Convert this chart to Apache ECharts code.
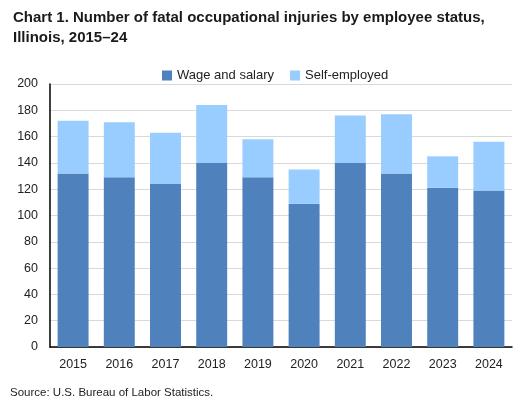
<!DOCTYPE html>
<html><head><meta charset="utf-8">
<script src="https://cdn.jsdelivr.net/npm/echarts@6/dist/echarts.min.js"></script>
<style>html,body{margin:0;padding:0;background:#fff}#c{width:528px;height:407px}</style>
</head><body><div id="c"></div>
<script>
const years = ['2015','2016','2017','2018','2019','2020','2021','2022','2023','2024'];
const wageSalary = [132, 129, 124, 140, 129, 109, 140, 132, 121, 119];
const selfEmployed = [40, 42, 39, 44, 29, 26, 36, 45, 24, 37];
const yTicks = [0, 20, 40, 60, 80, 100, 120, 140, 160, 180, 200];

const chart = echarts.init(document.getElementById('c'), null, {renderer: 'canvas'});
const font = '"Liberation Sans", Arial, sans-serif';
chart.setOption({
  animation: false,
  backgroundColor: '#fff',
  title: [{
    text: 'Chart 1. Number of fatal occupational injuries by employee status,\nIllinois, 2015\u201324',
    left: 8, top: 3,
    textStyle: {fontFamily: font, fontSize: 15, fontWeight: 'bold', color: '#1a1a1a', lineHeight: 20}
  }, {
    text: 'Source: U.S. Bureau of Labor Statistics.',
    left: 5, top: 382,
    textStyle: {fontFamily: font, fontSize: 11.5, fontWeight: 'normal', color: '#222'}
  }],
  legend: {
    top: 64, left: 157,
    itemWidth: 10, itemHeight: 10, itemGap: 16,
    icon: 'rect',
    textStyle: {fontFamily: font, fontSize: 13, color: '#222'},
    data: ['Wage and salary', 'Self-employed']
  },
  grid: {left: 50, right: 16, top: 84, bottom: 60, containLabel: false},
  xAxis: {
    type: 'category', data: years,
    axisLine: {lineStyle: {color: '#000', width: 1.5}},
    axisTick: {show: false},
    axisLabel: {fontFamily: font, fontSize: 12.5, color: '#222', margin: 11}
  },
  yAxis: {
    type: 'value', min: yTicks[0], max: yTicks[yTicks.length - 1], interval: 20,
    axisLine: {show: true, lineStyle: {color: '#000', width: 1.5}},
    axisTick: {show: false},
    axisLabel: {fontFamily: font, fontSize: 12.5, color: '#222', margin: 12},
    splitLine: {lineStyle: {color: '#d9d9d9', width: 1}}
  },
  series: [{
    name: 'Wage and salary', type: 'bar', stack: 'a', data: wageSalary,
    barWidth: '67%', itemStyle: {color: '#4F81BD'}
  }, {
    name: 'Self-employed', type: 'bar', stack: 'a', data: selfEmployed,
    barWidth: '67%', itemStyle: {color: '#99CCFF'}
  }]
});
</script></body></html>
